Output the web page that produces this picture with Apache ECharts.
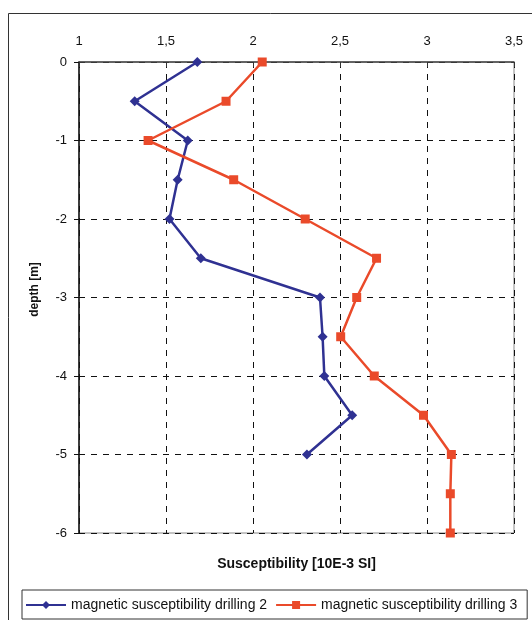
<!DOCTYPE html>
<html>
<head>
<meta charset="utf-8">
<script src="https://cdn.jsdelivr.net/npm/echarts@6/dist/echarts.min.js"></script>
<style>
  html, body { margin: 0; padding: 0; background: #fff; }
  #chart { width: 532px; height: 620px; }
</style>
</head>
<body>
<div id="chart"></div>
<script>
// depth of each sample [m]
const depth2 = [0, -0.5, -1, -1.5, -2, -2.5, -3, -3.5, -4, -4.5, -5]
const depth3 = [0, -0.5, -1, -1.5, -2, -2.5, -3, -3.5, -4, -4.5, -5, -5.5, -6]
// susceptibility [10E-3 SI]
const drilling2 = [1.68, 1.32, 1.625, 1.567, 1.52, 1.70, 2.385, 2.40, 2.41, 2.57, 2.31]
const drilling3 = [2.053, 1.845, 1.397, 1.889, 2.30, 2.71, 2.596, 2.504, 2.697, 2.98, 3.14, 3.134, 3.134]

const font = 'Liberation Sans, Arial, sans-serif'

let chart = echarts.init(document.getElementById('chart'))

const option = {
  animation: false,
  textStyle: { fontFamily: font },
  graphic: [
    {
      type: 'rect',
      shape: { x: 8.5, y: 13.5, width: 540, height: 620 },
      style: { fill: 'none', stroke: '#333', lineWidth: 1 },
      silent: true
    }
  ],
  grid: {
    left: 79,
    right: 18,
    top: 62,
    bottom: 87,
    show: true,
    borderColor: '#888',
    borderWidth: 1
  },
  legend: {
    bottom: 1,
    left: 22,
    itemGap: 8,
    itemWidth: 40,
    itemHeight: 10,
    padding: [8, 10, 7, 3],
    borderColor: '#333',
    borderWidth: 1,
    textStyle: { fontSize: 14, color: '#111', fontFamily: font }
  },
  xAxis: {
    type: 'value',
    position: 'top',
    min: 1,
    max: 3.5,
    interval: 0.5,
    name: 'Susceptibility [10E-3 SI]',
    nameLocation: 'middle',
    nameGap: -509,
    nameTextStyle: { fontSize: 14, fontWeight: 'bold', color: '#111' },
    axisLine: { show: true, onZero: false, lineStyle: { color: '#444', width: 1.5 } },
    axisTick: { show: true, inside: true, length: 5, lineStyle: { color: '#333' } },
    axisLabel: {
      fontSize: 13,
      color: '#111',
      margin: 14,
      formatter: v => String(v).replace('.', ',')
    },
    splitLine: { show: true, lineStyle: { color: '#111', type: [6, 6] } }
  },
  yAxis: {
    type: 'value',
    min: -6,
    max: 0,
    interval: 1,
    name: 'depth [m]',
    nameLocation: 'middle',
    nameGap: 38,
    nameTextStyle: { fontSize: 12, fontWeight: 'bold', color: '#111', padding: [0, 0, 0, 16] },
    axisLine: { show: true, onZero: false, lineStyle: { color: '#111', width: 1.5 } },
    axisTick: { show: true, length: 5, lineStyle: { color: '#111' } },
    axisLabel: { fontSize: 13, color: '#111', margin: 12 },
    splitLine: { show: true, lineStyle: { color: '#111', type: [6, 6] } }
  },
  series: [
    {
      name: 'magnetic susceptibility drilling 2',
      type: 'line',
      data: drilling2.map((v, i) => [v, depth2[i]]),
      symbol: 'diamond',
      symbolSize: 10,
      lineStyle: { color: '#2f3192', width: 2.5 },
      itemStyle: { color: '#2f3192' }
    },
    {
      name: 'magnetic susceptibility drilling 3',
      type: 'line',
      data: drilling3.map((v, i) => [v, depth3[i]]),
      symbol: 'rect',
      symbolSize: 9,
      lineStyle: { color: '#ea4a2a', width: 2.5 },
      itemStyle: { color: '#ea4a2a' }
    }
  ]
}

chart.setOption(option)
</script>
</body>
</html>
